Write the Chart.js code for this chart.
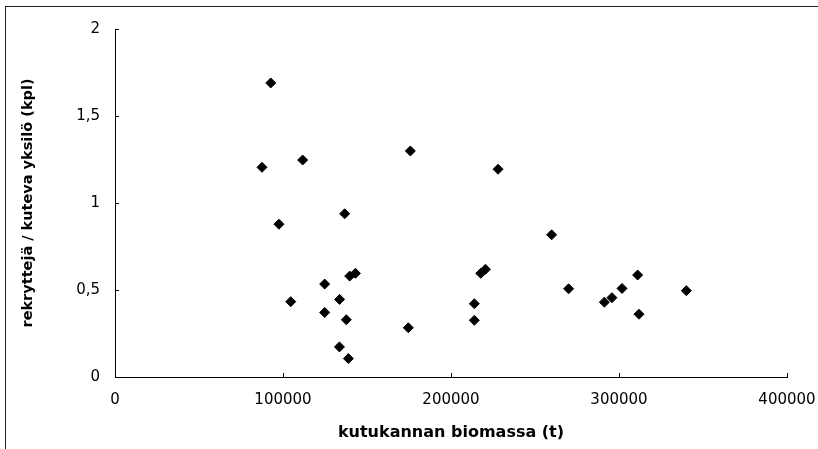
<!DOCTYPE html>
<html>
<head>
<meta charset="utf-8">
<script src="https://cdn.jsdelivr.net/npm/chart.js@4"></script>
<style>
  html, body { margin: 0; padding: 0; background: #fff; overflow: hidden; }
  #wrap { position: relative; width: 818px; height: 449px; }
  #frame {
    position: absolute; left: 5px; top: 6px; width: 900px; height: 500px;
    border-left: 1px solid #222; border-top: 1px solid #222;
  }
  #chart { position: absolute; left: 0; top: 0; }
</style>
</head>
<body>
<div id="wrap">
  <div id="frame"></div>
  <canvas id="chart" width="818" height="449"></canvas>
</div>
<script>
// kutukannan biomassa (t) vs rekryyttejä / kuteva yksilö
const biomassa = [92700, 87500, 111700, 175800, 97600, 136700, 124800, 139700, 143100, 104600,
  133700, 124800, 137700, 174600, 133600, 138900, 228000, 259900, 217700, 220500,
  270000, 213900, 213900, 311100, 291300, 295800, 301800, 340100, 311900];
const rekryytit = [1.69, 1.205, 1.247, 1.299, 0.878, 0.938, 0.534, 0.58, 0.596, 0.433,
  0.446, 0.371, 0.329, 0.283, 0.173, 0.106, 1.194, 0.817, 0.596, 0.619,
  0.507, 0.421, 0.326, 0.586, 0.43, 0.456, 0.509, 0.496, 0.361];

const xTickLabels = ["0", "100000", "200000", "300000", "400000"];
const yTickLabels = ["0", "0,5", "1", "1,5", "2"];

const xTitle = "kutukannan biomassa (t)";
const yTitle = "rekryttejä / kuteva yksilö (kpl)";

const points = biomassa.map((x, i) => ({ x: x, y: rekryytit[i] }));

const ctx = document.getElementById("chart").getContext("2d");

new Chart(ctx, {
  type: "scatter",
  data: {
    datasets: [{
      data: points,
      pointStyle: "rectRot",
      pointRadius: 5,
      backgroundColor: "#000",
      borderColor: "#000",
      borderWidth: 1
    }]
  },
  options: {
    responsive: false,
    animation: false,
    layout: { padding: { top: 29, right: 31, bottom: 0, left: 0 } },
    plugins: {
      legend: { display: false },
      tooltip: { enabled: false }
    },
    scales: {
      x: {
        type: "linear",
        min: 0,
        max: 400000,
        afterFit: (scale) => {
          scale.height = 72;
          scale.paddingLeft = 0;
          scale.paddingRight = 0;
        },
        grid: { drawOnChartArea: false, drawTicks: true, tickLength: -4, color: "#000" },
        border: { display: true, color: "#000", width: 1 },
        ticks: {
          stepSize: 100000,
          padding: 18,
          color: "#000",
          font: { family: "DejaVu Sans", size: 15 },
          maxRotation: 0,
          callback: (value, index) => xTickLabels[index]
        },
        title: {
          display: true,
          text: xTitle,
          color: "#000",
          font: { family: "DejaVu Sans", size: 16, weight: "bold" },
          padding: { top: 0, bottom: 7 }
        }
      },
      y: {
        type: "linear",
        min: 0,
        max: 2,
        afterFit: (scale) => {
          scale.width = 115;
          scale.paddingTop = 0;
          scale.paddingBottom = 0;
        },
        grid: { drawOnChartArea: false, drawTicks: true, tickLength: -4, color: "#000" },
        border: { display: true, color: "#000", width: 1 },
        ticks: {
          stepSize: 0.5,
          padding: 19,
          color: "#000",
          font: { family: "DejaVu Sans", size: 15 },
          callback: (value, index) => yTickLabels[index]
        },
        title: {
          display: true,
          text: yTitle,
          color: "#000",
          font: { family: "DejaVu Sans", size: 14.5, weight: "bold" },
          padding: { top: 20, bottom: 0 }
        }
      }
    }
  }
});
</script>
</body>
</html>
